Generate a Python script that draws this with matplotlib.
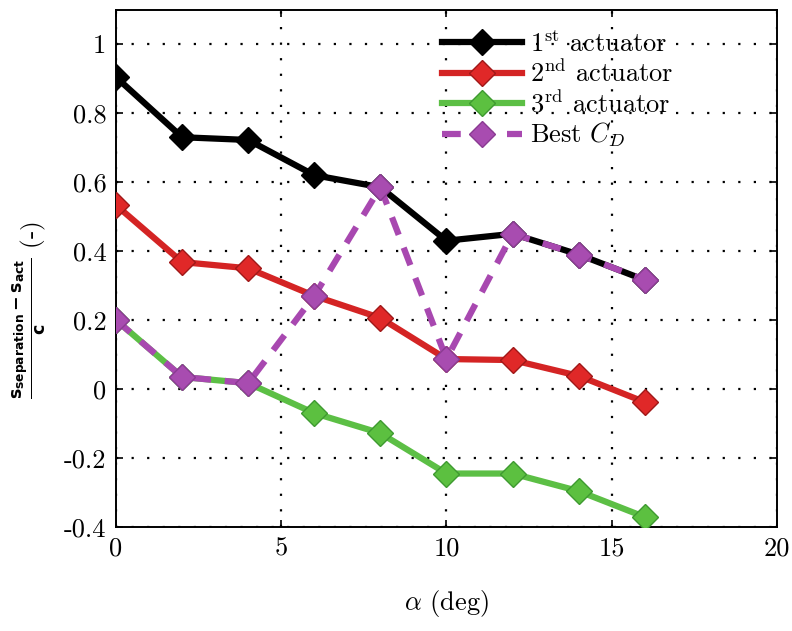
import matplotlib
matplotlib.use("Agg")
import matplotlib.pyplot as plt
from matplotlib.ticker import FuncFormatter

plt.rcParams['font.family'] = 'serif'
plt.rcParams['font.serif'] = ['cmr10', 'DejaVu Serif']
plt.rcParams['mathtext.fontset'] = 'cm'
plt.rcParams['axes.unicode_minus'] = False

alpha = [0, 2, 4, 6, 8, 10, 12, 14, 16]
act1 = [0.904, 0.730, 0.722, 0.620, 0.585, 0.430, 0.450, 0.390, 0.316]
act2 = [0.533, 0.368, 0.350, 0.270, 0.206, 0.087, 0.084, 0.038, -0.038]
act3 = [0.200, 0.035, 0.017, -0.070, -0.128, -0.245, -0.245, -0.296, -0.371]
best = [0.200, 0.035, 0.017, 0.270, 0.585, 0.087, 0.450, 0.390, 0.316]

labels = [r'1$^{\mathrm{st}}$ actuator', r'2$^{\mathrm{nd}}$ actuator',
          r'3$^{\mathrm{rd}}$ actuator', r'Best $C_D$']

fig = plt.figure(figsize=(7.92, 6.31), dpi=100)
ax = fig.add_axes([0.1465, 0.1648, 0.8345, 0.820])

ms = 13
lw = 4.5
ax.plot(alpha, act1, '-D', color='black', lw=lw, ms=ms, mfc='black', mec='black', label=labels[0], zorder=3)
ax.plot(alpha, act2, '-D', color='#d42424', lw=lw, ms=ms, mfc='#e02828', mec='#a01818', label=labels[1], zorder=3)
ax.plot(alpha, act3, '-D', color='#5cbf45', lw=lw, ms=ms, mfc='#5cc040', mec='#3e9a30', label=labels[2], zorder=3)
ax.plot(alpha, best, '--D', color='#a848b0', lw=lw, ms=ms, mfc='#a84cb0', mec='#8a3a92',
        dashes=(3, 2.2), label=labels[3], zorder=4)

ax.set_xlim(0, 20)
ax.set_ylim(-0.4, 1.1)
ax.set_xticks([0, 5, 10, 15, 20])
ax.set_yticks([-0.4, -0.2, 0, 0.2, 0.4, 0.6, 0.8, 1.0])
ax.yaxis.set_major_formatter(FuncFormatter(lambda v, p: '%g' % round(v, 2)))
ax.tick_params(direction='in', top=True, right=True, labelsize=19, length=5, width=1.2, pad=7)
ax.grid(True, color='black', linestyle=(0, (1, 6)), linewidth=1.6)
for s in ax.spines.values():
    s.set_linewidth(1.4)

ax.set_xlabel(r'$\alpha$ (deg)', fontsize=19, labelpad=20)
ax.set_ylabel(r'$\mathbf{\frac{s_{separation}-s_{act}}{c}}$ (-)', fontsize=18)
ax.yaxis.label.set_math_fontfamily('dejavusans')
ax.yaxis.set_label_coords(-0.103, 0.42)

leg = ax.legend(loc='upper left', bbox_to_anchor=(0.47, 0.99), frameon=False, fontsize=19,
                handlelength=3.0, handletextpad=0.3, labelspacing=0.12, borderaxespad=0.2)

fig.savefig('out.png', dpi=100)
